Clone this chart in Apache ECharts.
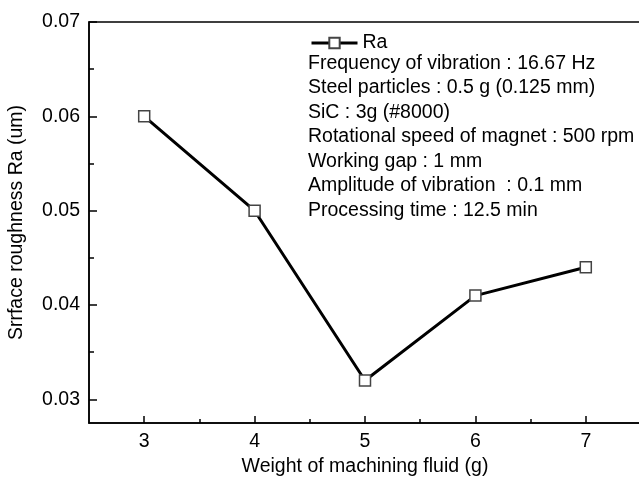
<!DOCTYPE html>
<html>
<head>
<meta charset="utf-8">
<script src="https://cdn.jsdelivr.net/npm/echarts@6/dist/echarts.min.js"></script>
<style>
  html, body { margin: 0; padding: 0; background: #fff; }
  #chart { width: 639px; height: 479px; }
</style>
</head>
<body>
<div id="chart"></div>
<script>
// Weight of machining fluid (g) and measured surface roughness Ra (um)
const fluidWeight = [3, 4, 5, 6, 7];
const roughnessRa = [0.060, 0.050, 0.032, 0.041, 0.044];

// Tick positions for both axes
const xMajorTicks = [3, 4, 5, 6, 7];
const xMinorTicks = [3.5, 4.5, 5.5, 6.5];
const yMajorTicks = [0.03, 0.04, 0.05, 0.06, 0.07];
const yMinorTicks = [0.035, 0.045, 0.055, 0.065];

// Processing conditions listed under the legend
const conditions = [
  'Frequency of vibration : 16.67 Hz',
  'Steel particles : 0.5 g (0.125 mm)',
  'SiC : 3g (#8000)',
  'Rotational speed of magnet : 500 rpm',
  'Working gap : 1 mm',
  'Amplitude of vibration  : 0.1 mm',
  'Processing time : 12.5 min'
];

const FONT = '"Liberation Sans", Arial, sans-serif';
const FS = 19.5;
const INK = '#000';
const axisLineStyle = { color: INK, width: 1.5 };

const chart = echarts.init(document.getElementById('chart'), null, { renderer: 'canvas' });

chart.setOption({
  backgroundColor: '#fff',
  animation: false,
  textStyle: { fontFamily: FONT, color: INK },
  grid: {
    left: 89, top: 22, width: 552, bottom: 56,
    outerBoundsMode: 'none', containLabel: false,
    show: true, borderColor: INK, borderWidth: 1.5, backgroundColor: 'transparent'
  },
  legend: {
    data: ['Ra'],
    left: 305, top: 28,
    itemWidth: 46, itemHeight: 13, itemGap: 4,
    lineStyle: { width: 3, color: INK },
    textStyle: { fontFamily: FONT, fontSize: FS, color: INK }
  },
  xAxis: [
    {
      type: 'value', min: 2.5, max: 7.5, position: 'bottom',
      name: 'Weight of machining fluid (g)',
      nameLocation: 'middle', nameGap: 34,
      nameTextStyle: { fontFamily: FONT, fontSize: FS, color: INK },
      axisLine: { show: true, lineStyle: axisLineStyle },
      axisTick: { show: true, inside: true, length: 7, customValues: xMajorTicks, lineStyle: axisLineStyle },
      axisLabel: { customValues: xMajorTicks, fontFamily: FONT, fontSize: FS, color: INK, margin: 9 },
      splitLine: { show: false }
    },
    {
      type: 'value', min: 2.5, max: 7.5, position: 'bottom',
      axisLine: { show: false },
      axisTick: { show: true, inside: true, length: 4, customValues: xMinorTicks, lineStyle: axisLineStyle },
      axisLabel: { show: false },
      splitLine: { show: false }
    }
  ],
  yAxis: [
    {
      type: 'value', min: 0.0275, max: 0.07, position: 'left',
      name: 'Srrface roughness Ra (um)',
      nameLocation: 'middle', nameGap: 62,
      nameTextStyle: { fontFamily: FONT, fontSize: FS, color: INK },
      axisLine: { show: true, lineStyle: axisLineStyle },
      axisTick: { show: true, inside: true, length: 8, customValues: yMajorTicks, lineStyle: axisLineStyle },
      axisLabel: {
        customValues: yMajorTicks, fontFamily: FONT, fontSize: FS, color: INK, margin: 9,
        formatter: v => v.toFixed(2)
      },
      splitLine: { show: false }
    },
    {
      type: 'value', min: 0.0275, max: 0.07, position: 'left',
      axisLine: { show: false },
      axisTick: { show: true, inside: true, length: 5, customValues: yMinorTicks, lineStyle: axisLineStyle },
      axisLabel: { show: false },
      splitLine: { show: false }
    }
  ],
  series: [
    {
      name: 'Ra',
      type: 'line',
      xAxisIndex: 0, yAxisIndex: 0,
      data: fluidWeight.map((w, i) => [w, roughnessRa[i]]),
      lineStyle: { color: INK, width: 3 },
      symbol: 'rect', symbolSize: 11,
      itemStyle: { color: '#fff', borderColor: '#444', borderWidth: 1.5 },
      z: 3
    }
  ],
  graphic: [
    {
      type: 'text',
      left: 308, top: 51,
      style: {
        text: conditions.join('\n'),
        fontFamily: FONT, fontSize: FS, lineHeight: 24.5,
        fill: INK
      }
    }
  ]
});
</script>
</body>
</html>
